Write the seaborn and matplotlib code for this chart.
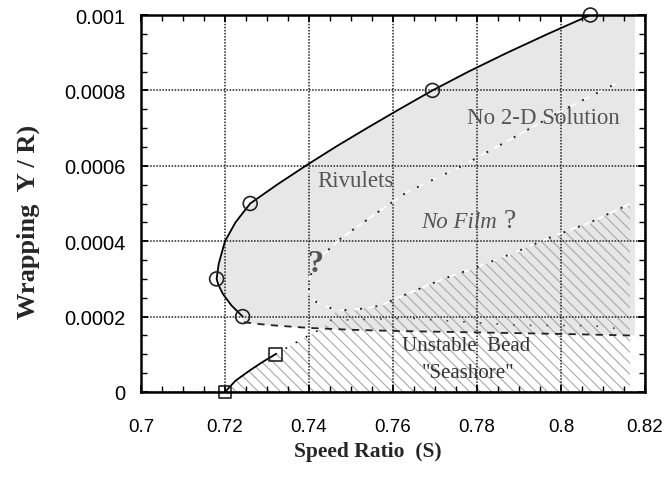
import matplotlib
matplotlib.use("Agg")
import matplotlib.pyplot as plt
import seaborn as sns
import numpy as np
import pandas as pd

# ---- data ----
upper_x = [0.7242, 0.7215, 0.7195, 0.7184, 0.7180, 0.7185, 0.7200, 0.7225, 0.7260,
           0.7324, 0.7392, 0.7463, 0.7538, 0.7615, 0.7694, 0.7780, 0.7872, 0.7969, 0.8070]
upper_y = [0.000200, 0.000230, 0.000260, 0.000285, 0.000300, 0.000340, 0.000400, 0.000450,
           0.000500, 0.000550, 0.000600, 0.000650, 0.000700, 0.000750, 0.000800, 0.000850,
           0.000900, 0.000950, 0.001000]
circle_x = [0.7242, 0.7180, 0.7260, 0.7694, 0.8070]
circle_y = [0.000200, 0.000300, 0.000500, 0.000800, 0.001000]

lower_x = [0.7200, 0.7225, 0.7260, 0.7290, 0.7320]
lower_y = [0.000000, 0.000030, 0.000058, 0.000080, 0.000100]
square_x = [0.7200, 0.7320]
square_y = [0.000000, 0.000100]
ext_x = [0.7320, 0.7375, 0.7433]
ext_y = [0.000100, 0.000135, 0.000170]

dashed_x = [0.7245, 0.7300, 0.7400, 0.7500, 0.7600, 0.7800, 0.8000, 0.8164]
dashed_y = [0.000185, 0.000178, 0.000170, 0.000165, 0.000162, 0.000158, 0.000154, 0.000150]

faint_x = [0.7450, 0.7640, 0.7740, 0.7900, 0.8076, 0.8150]
faint_y = [0.000190, 0.000196, 0.000188, 0.000177, 0.000176, 0.000166]

loop_x = [0.8129, 0.8000, 0.7902, 0.7765, 0.7633, 0.7569, 0.7474, 0.7420, 0.7400, 0.7400,
          0.7418, 0.7466, 0.7520, 0.7569, 0.7633, 0.7720, 0.7799, 0.7890, 0.7974, 0.8070, 0.8164]
loop_y = [0.000817, 0.000745, 0.000684, 0.000600, 0.000530, 0.000481, 0.000406, 0.000350,
          0.000300, 0.000260, 0.000238, 0.000216, 0.000220, 0.000229, 0.000260, 0.000300,
          0.000331, 0.000370, 0.000410, 0.000450, 0.000499]

fill_right = 0.8176
hatch_right = 0.8164

xticks = [0.70, 0.72, 0.74, 0.76, 0.78, 0.80, 0.82]
xtick_labels = ["0.7", "0.72", "0.74", "0.76", "0.78", "0.8", "0.82"]
yticks = [0, 0.0002, 0.0004, 0.0006, 0.0008, 0.001]
ytick_labels = ["0", "0.0002", "0.0004", "0.0006", "0.0008", "0.001"]

# ---- figure ----
sns.set_theme(style="ticks")
plt.rcParams["font.family"] = ["Liberation Sans", "DejaVu Sans"]
plt.rcParams["hatch.linewidth"] = 0.8

fig = plt.figure(figsize=(6.66, 4.81), dpi=100)
ax = fig.add_axes([141 / 666, 1 - 393 / 481, 504 / 666, 377 / 481])

# gray region
gx = upper_x + [fill_right, fill_right] + dashed_x[::-1]
gy = upper_y + [0.001, dashed_y[-1]] + dashed_y[::-1]
ax.fill(gx, gy, facecolor="#e7e7e7", edgecolor="none", zorder=1)

# hatched region
lo = list(range(11, len(loop_x)))
hx = lower_x + ext_x[1:] + [loop_x[i] for i in lo] + [hatch_right, hatch_right]
hy = lower_y + ext_y[1:] + [loop_y[i] for i in lo] + [loop_y[-1], 0.0]
ax.fill(hx, hy, facecolor="none", edgecolor="#a8a8a8", hatch="\\\\\\", linewidth=0, zorder=2)

# grid
ax.set_xticks(xticks)
ax.set_xticklabels(xtick_labels)
ax.set_yticks(yticks)
ax.set_yticklabels(ytick_labels)
ax.grid(True, which="major", color="#222222", linestyle=(0, (1, 1)), linewidth=1.1, zorder=3)
ax.set_axisbelow(False)

# lines
df_up = pd.DataFrame({"x": upper_x, "y": upper_y})
sns.lineplot(data=df_up, x="x", y="y", sort=False, estimator=None, color="black", lw=1.3, ax=ax, zorder=5)
df_lo = pd.DataFrame({"x": lower_x, "y": lower_y})
sns.lineplot(data=df_lo, x="x", y="y", sort=False, estimator=None, color="black", lw=1.3, ax=ax, zorder=5)
df_ext = pd.DataFrame({"x": ext_x, "y": ext_y})
sns.lineplot(data=df_ext, x="x", y="y", sort=False, estimator=None, color="black", lw=1.2,
             linestyle=(0, (1, 6)), ax=ax, zorder=5)
df_da = pd.DataFrame({"x": dashed_x, "y": dashed_y})
sns.lineplot(data=df_da, x="x", y="y", sort=False, estimator=None, color="#222222", lw=1.3,
             linestyle=(0, (4, 3.5)), ax=ax, zorder=5)
df_fa = pd.DataFrame({"x": faint_x, "y": faint_y})
sns.lineplot(data=df_fa, x="x", y="y", sort=False, estimator=None, color="#444444", lw=1.2,
             linestyle=(0, (1, 9)), ax=ax, zorder=5)
df_loop = pd.DataFrame({"x": loop_x, "y": loop_y})
sns.lineplot(data=df_loop, x="x", y="y", sort=False, estimator=None, color="white", lw=1.3,
             linestyle=(0, (4, 4)), ax=ax, zorder=4)
sns.lineplot(data=df_loop, x="x", y="y", sort=False, estimator=None, color="#222222", lw=1.4,
             linestyle=(6, (1, 7)), ax=ax, zorder=5)

# markers
sns.scatterplot(x=circle_x, y=circle_y, marker="o", s=100, facecolor="none", edgecolor="#222222",
                linewidth=1.2, ax=ax, zorder=6, clip_on=False)
sns.scatterplot(x=square_x, y=square_y, marker="s", s=80, facecolor="none", edgecolor="#222222",
                linewidth=1.2, ax=ax, zorder=6, clip_on=False)

ax.set_xlim(0.70, 0.82)
ax.set_ylim(0, 0.001)

# annotations
serif = ["Liberation Serif", "DejaVu Serif"]
ax.text(0.7957, 0.000729, "No 2-D Solution", family=serif, fontsize=16.5, color="#555555",
        ha="center", va="center", zorder=7)
ax.text(0.7511, 0.000560, "Rivulets", family=serif, fontsize=16.5, color="#555555",
        ha="center", va="center", zorder=7)
ax.text(0.7757, 0.000451, "No Film", family=serif, style="italic", fontsize=16.5, color="#555555",
        ha="center", va="center", zorder=7)
ax.text(0.7879, 0.000455, "?", family=serif, fontsize=20, color="#555555",
        ha="center", va="center", zorder=7)
ax.text(0.7414, 0.000340, "?", family=serif, fontweight="bold", fontsize=23, color="#555555",
        ha="center", va="center", zorder=7)
ax.text(0.7774, 0.000123, "Unstable  Bead", family=serif, fontsize=15, color="#333333",
        ha="center", va="center", zorder=7)
ax.text(0.7778, 0.0000523, "\"Seashore\"", family=serif, fontsize=15, color="#333333",
        ha="center", va="center", zorder=7)

# axes styling
ax.set_xlabel("Speed Ratio  (S)", family=serif, fontweight="bold", fontsize=15.5)
ax.set_ylabel("Wrapping  Y / R)", family=serif, fontweight="bold", fontsize=19)
ax.xaxis.label.set_va("center")
ax.yaxis.label.set_va("center")
ax.xaxis.set_label_coords((368 - 141) / 504, (393 - 452) / 377)
ax.yaxis.set_label_coords((28 - 141) / 504, (393 - 222) / 377)

ax.xaxis.set_minor_locator(matplotlib.ticker.MultipleLocator(0.005))
ax.yaxis.set_minor_locator(matplotlib.ticker.MultipleLocator(0.00005))
ax.tick_params(which="both", direction="in", top=True, right=True, colors="black")
ax.tick_params(which="major", length=5, width=1.3)
ax.tick_params(which="minor", length=4, width=1.0)
ax.tick_params(axis="x", which="major", pad=19, labelsize=13.5)
ax.tick_params(axis="y", which="major", pad=11, labelsize=14.5)
for s in ax.spines.values():
    s.set_linewidth(1.8)
    s.set_color("black")
    s.set_zorder(8)

fig.savefig("out.png", dpi=100)
